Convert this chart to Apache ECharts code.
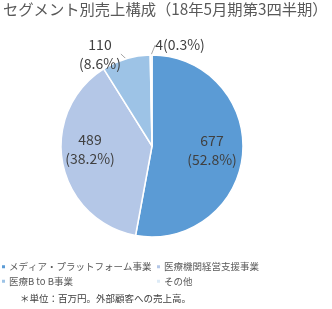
<!DOCTYPE html>
<html><head><meta charset="utf-8">
<script src="https://cdn.jsdelivr.net/npm/echarts@6/dist/echarts.min.js"></script>
<style>html,body{margin:0;padding:0;background:#fff}#c{width:332px;height:309px}</style>
</head><body><div id="c"></div>
<script>
const categories = ['メディア・プラットフォーム事業','医療機関経営支援事業','医療B to B事業','その他'];
const values = [677, 489, 110, 4];
const percents = ['52.8%','38.2%','8.6%','0.3%'];
const colors = ['#5B9BD5','#B4C7E7','#9DC3E6','#DDEBF7'];
const font = '"Noto Sans CJK JP", sans-serif';
const chart = echarts.init(document.getElementById('c'));
const data = categories.map((n,i)=>{
  const d = {name:n, value:values[i], itemStyle:{color:colors[i]}};
  if (i < 2) {
    d.label = {position:'inside', formatter: values[i] + '\n(' + percents[i] + ')'};
    d.labelLine = {show:false};
  } else if (i === 2) {
    d.label = {position:'outside', formatter: values[i] + '\n(' + percents[i] + ')'};
  } else {
    d.label = {position:'outside', formatter: values[i] + '(' + percents[i] + ')'};
  }
  return d;
});
chart.setOption({
  animation:false,
  title:[
    {text:'セグメント別売上構成（18年5月期第3四半期）', left:3, top:2, padding:0,
     textStyle:{fontFamily:font, fontSize:15.3, fontWeight:'normal', color:'#595959'}},
    {text:'＊単位：百万円。外部顧客への売上高。', left:20, top:294, padding:0,
     textStyle:{fontFamily:font, fontSize:9.5, fontWeight:'normal', color:'#404040'}}
  ],
  legend:[
    {data:[categories[0],categories[2]], orient:'vertical', left:0, top:262, itemGap:5, padding:0,
     icon:'rect', itemWidth:5, itemHeight:5,
     textStyle:{fontFamily:font, fontSize:9.5, color:'#595959', padding:[0,0,0,-2]}},
    {data:[categories[1],categories[3]], orient:'vertical', left:155, top:262, itemGap:5, padding:0,
     icon:'rect', itemWidth:5, itemHeight:5,
     textStyle:{fontFamily:font, fontSize:9.5, color:'#595959', padding:[0,0,0,-2]}}
  ],
  series:[{
    type:'pie', center:[152,146], radius:[0,91], startAngle:90, clockwise:true,
    data:data,
    itemStyle:{borderColor:'#fff', borderWidth:1.5},
    label:{fontFamily:font, fontSize:14, color:'#404040', lineHeight:19},
    labelLine:{length:6, length2:0, lineStyle:{color:'#A6A6A6', width:1}},
    labelLayout:function(p){
      if (p.dataIndex === 2) return {x:100, y:54, align:'center', verticalAlign:'middle'};
      if (p.dataIndex === 3) return {x:180, y:45, align:'center', verticalAlign:'middle'};
      if (p.dataIndex === 0) return {x:212, y:150, align:'center', verticalAlign:'middle'};
      if (p.dataIndex === 1) return {x:90, y:149, align:'center', verticalAlign:'middle'};
    }
  }]
});
</script></body></html>
